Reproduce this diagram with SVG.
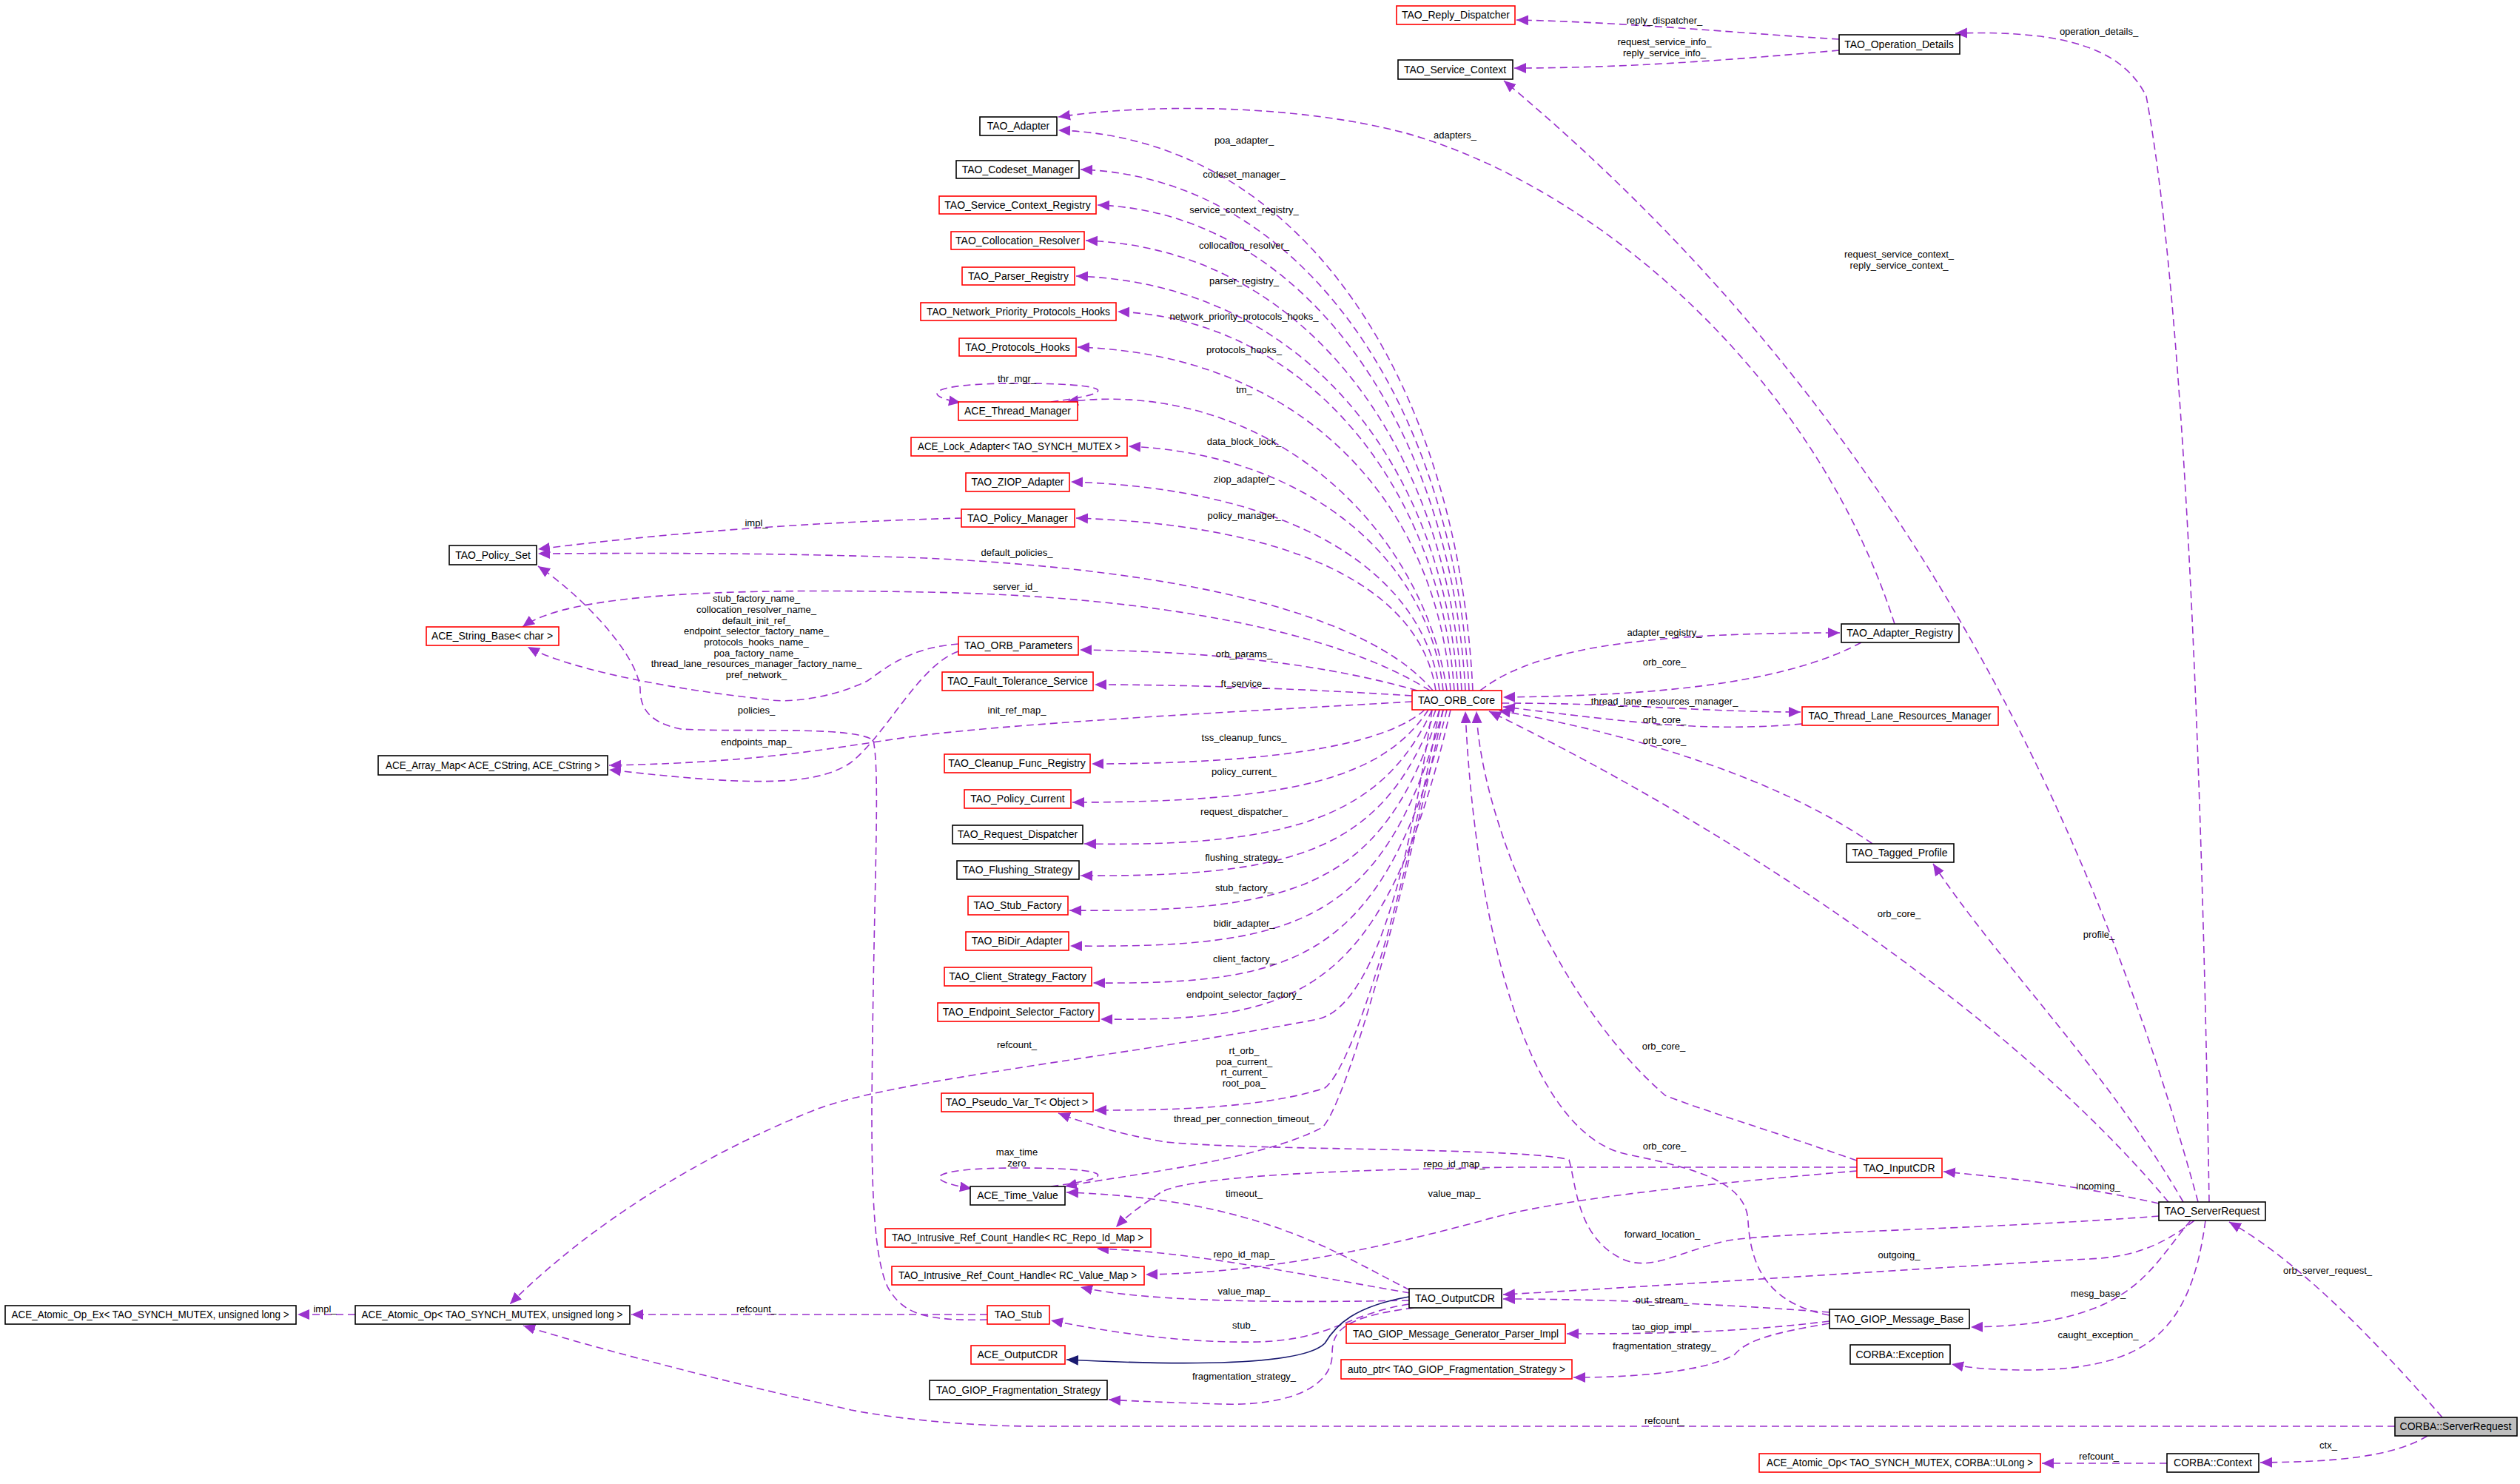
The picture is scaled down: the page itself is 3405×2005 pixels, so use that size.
<svg xmlns="http://www.w3.org/2000/svg" width="3405" height="2005" viewBox="0 0 3405 2005">
<style>
.n rect{fill:#fff;stroke-width:1.6}
.r rect{stroke:#ff0000}
.b rect{stroke:#000}
.g rect{stroke:#000;fill:#bfbfbf}
.n text{font-family:"Liberation Sans",Arial,sans-serif;font-size:14px;text-anchor:middle;fill:#000}
.e path{fill:none;stroke:#9a32cd;stroke-width:1.6;stroke-dasharray:10,6;marker-end:url(#a)}
.e path.inh{stroke:#191970;stroke-dasharray:none;marker-end:url(#ai)}
.l text{font-family:"Liberation Sans",Arial,sans-serif;font-size:13px;text-anchor:middle;fill:#000}
</style>
<defs>
<marker id="a" markerUnits="userSpaceOnUse" markerWidth="20" markerHeight="16" refX="16" refY="7" orient="auto"><path d="M0,0 L16,7 L0,14 z" fill="#9a32cd"/></marker>
<marker id="ai" markerUnits="userSpaceOnUse" markerWidth="20" markerHeight="16" refX="16" refY="7" orient="auto"><path d="M0,0 L16,7 L0,14 z" fill="#191970"/></marker>
</defs>
<rect width="3405" height="2005" fill="#fff"/>
<g id="edges" class="e">
<path d="M1990,933 C1970,517 1760,186 1430,176"/>
<path d="M1985,933 C1965,546 1760,239 1460,229"/>
<path d="M1980,933 C1960,572 1760,287 1483,277"/>
<path d="M1975,933 C1955,599 1760,335 1467,325"/>
<path d="M1970,933 C1950,625 1760,383 1454,373"/>
<path d="M1965,933 C1945,651 1760,431 1510,421"/>
<path d="M1960,933 C1940,678 1760,479 1456,469"/>
<path d="M1955,933 C1920,700 1700,510 1441,543"/>
<path d="M1950,933 C1930,750 1760,613 1525,603"/>
<path d="M1945,933 C1925,780 1760,661 1447,651"/>
<path d="M1940,933 C1920,800 1760,710 1454,700"/>
<path d="M1936,933 C1850,830 1600,770 1250,754 C1000,745 800,748 727,748"/>
<path d="M1932,933 C1800,850 1550,805 1250,800 C1000,795 770,800 706,847"/>
<path d="M1915,933 C1800,900 1650,880 1459,878"/>
<path d="M1908,940 C1750,930 1600,925 1479,925"/>
<path d="M1908,948 C1700,960 1400,975 1250,993 C1150,1005 1050,1030 823,1034"/>
<path d="M1925,959 C1880,1000 1750,1032 1475,1032"/>
<path d="M1930,959 C1870,1050 1750,1084 1449,1084"/>
<path d="M1935,959 C1870,1100 1750,1145 1465,1140"/>
<path d="M1940,959 C1870,1150 1750,1185 1460,1183"/>
<path d="M1945,959 C1870,1200 1750,1233 1445,1230"/>
<path d="M1950,959 C1870,1250 1750,1281 1446,1278"/>
<path d="M1955,959 C1870,1300 1750,1330 1477,1328"/>
<path d="M1960,959 C1870,1350 1750,1380 1487,1377"/>
<path d="M1935,959 C1900,1200 1850,1360 1781,1377 C1500,1430 1200,1460 1100,1500 C900,1580 760,1690 689,1762"/>
<path d="M1945,959 C1900,1200 1830,1440 1790,1470 C1700,1500 1550,1500 1479,1500"/>
<path d="M1950,959 C1900,1200 1820,1490 1787,1523 C1700,1570 1500,1590 1439,1603"/>
<path d="M1300,700 C1100,705 900,720 727,742"/>
<path d="M1295,870 C1230,875 1200,900 1172,920 C1120,945 1060,950 1036,945 C940,935 780,910 713,874"/>
<path d="M1295,880 C1240,900 1200,990 1150,1030 C1100,1065 1000,1060 823,1040"/>
<path d="M1334,1783 C1250,1785 1220,1775 1200,1740 C1180,1700 1178,1600 1178,1500 C1180,1200 1190,1050 1180,1000 C1150,980 1000,990 920,985 C870,975 865,950 865,930 C860,880 780,800 727,765"/>
<path d="M1334,1776 L853,1776"/>
<path d="M480,1776 L402,1776"/>
<path d="M1420,543 C1520,530 1500,518 1375,518 C1250,518 1245,535 1298,544"/>
<path d="M1420,1603 C1520,1590 1500,1578 1375,1578 C1250,1578 1245,1595 1313,1606"/>
<path d="M2000,933 C2080,870 2250,855 2486,855"/>
<path d="M2515,868 C2400,930 2200,940 2031,942"/>
<path d="M2029,950 C2200,950 2300,962 2433,962"/>
<path d="M2435,978 C2300,990 2200,975 2031,955"/>
<path d="M2530,1140 C2400,1050 2200,990 2025,960"/>
<path d="M2930,1624 C2700,1350 2300,1100 2012,961"/>
<path d="M2509,1568 C2400,1530 2300,1500 2250,1480 C2100,1350 2000,1100 1995,961"/>
<path d="M2472,1777 C2380,1760 2365,1700 2362,1650 C2360,1600 2300,1580 2200,1560 C2050,1530 1990,1200 1980,961"/>
<path d="M2485,53 C2350,45 2200,30 2049,27"/>
<path d="M2485,68 C2350,80 2200,92 2046,92"/>
<path d="M2985,1624 C2975,1000 2950,400 2900,130 C2870,70 2800,40 2642,45"/>
<path d="M2970,1624 C2800,1000 2500,500 2032,109"/>
<path d="M2560,843 C2450,500 2150,250 1900,180 C1750,140 1550,140 1430,158"/>
<path d="M2950,1624 C2850,1450 2700,1300 2612,1167"/>
<path d="M2917,1626 C2800,1600 2700,1590 2626,1583"/>
<path d="M2917,1643 C2700,1660 2400,1665 2335,1676 C2270,1690 2230,1720 2190,1700 C2130,1670 2130,1600 2120,1567 C2060,1550 1700,1555 1575,1543 C1500,1530 1460,1515 1430,1504"/>
<path d="M2965,1649 C2900,1700 2850,1700 2800,1702 C2500,1720 2200,1740 2031,1749"/>
<path d="M2960,1649 C2900,1720 2880,1790 2663,1793"/>
<path d="M2980,1649 C2960,1800 2900,1850 2740,1851 C2690,1851 2660,1848 2637,1843"/>
<path d="M3300,1915 C3200,1800 3100,1700 3012,1651"/>
<path d="M3236,1927 L1400,1927 C1300,1927 1200,1915 1150,1905 C950,1860 800,1820 707,1791"/>
<path d="M3280,1940 C3230,1970 3150,1975 3054,1976"/>
<path d="M2928,1977 L2759,1977"/>
<path d="M2472,1773 C2300,1760 2150,1755 2031,1755"/>
<path d="M2472,1785 C2350,1800 2250,1802 2117,1802"/>
<path d="M2472,1788 C2400,1800 2360,1810 2344,1830 C2300,1855 2200,1861 2126,1861"/>
<path d="M2509,1577 L2050,1577 C1800,1580 1610,1590 1570,1610 C1540,1630 1520,1645 1508,1658"/>
<path d="M2509,1582 C2300,1600 2100,1620 2000,1650 C1850,1690 1700,1720 1548,1722"/>
<path d="M1905,1743 C1800,1690 1700,1620 1441,1611"/>
<path d="M1905,1747 C1750,1720 1600,1690 1482,1687"/>
<path d="M1904,1757 C1750,1760 1550,1760 1460,1739"/>
<path d="M1904,1762 C1820,1775 1800,1810 1700,1813 C1600,1815 1500,1800 1420,1784"/>
<path class="inh" d="M1904,1752 C1830,1765 1805,1790 1790,1815 C1760,1845 1600,1845 1441,1837"/>
<path d="M1910,1767 C1810,1780 1800,1800 1800,1830 C1800,1870 1750,1900 1650,1897 C1580,1895 1530,1893 1498,1891"/>
</g>
<g id="labels" class="l">
<text x="1681" y="194">poa_adapter_</text>
<text x="1681" y="240">codeset_manager_</text>
<text x="1681" y="288">service_context_registry_</text>
<text x="1681" y="336">collocation_resolver_</text>
<text x="1681" y="384">parser_registry_</text>
<text x="1681" y="432">network_priority_protocols_hooks_</text>
<text x="1681" y="477">protocols_hooks_</text>
<text x="1681" y="531">tm_</text>
<text x="1374" y="516">thr_mgr_</text>
<text x="1681" y="601">data_block_lock_</text>
<text x="1681" y="652">ziop_adapter_</text>
<text x="1681" y="701">policy_manager_</text>
<text x="1374" y="751">default_policies_</text>
<text x="1372" y="797">server_id_</text>
<text x="1681" y="888">orb_params_</text>
<text x="1681" y="928">ft_service_</text>
<text x="1374" y="964">init_ref_map_</text>
<text x="1681" y="1001">tss_cleanup_funcs_</text>
<text x="1681" y="1047">policy_current_</text>
<text x="1681" y="1101">request_dispatcher_</text>
<text x="1681" y="1163">flushing_strategy_</text>
<text x="1681" y="1204">stub_factory_</text>
<text x="1681" y="1252">bidir_adapter_</text>
<text x="1681" y="1300">client_factory_</text>
<text x="1681" y="1348">endpoint_selector_factory_</text>
<text x="1374" y="1416">refcount_</text>
<text x="1681" y="1424">rt_orb_</text>
<text x="1681" y="1439">poa_current_</text>
<text x="1681" y="1453">rt_current_</text>
<text x="1681" y="1468">root_poa_</text>
<text x="1681" y="1516">thread_per_connection_timeout_</text>
<text x="1374" y="1561">max_time</text>
<text x="1374" y="1576">zero</text>
<text x="1681" y="1617">timeout_</text>
<text x="1965" y="1577">repo_id_map_</text>
<text x="1965" y="1617">value_map_</text>
<text x="1681" y="1699">repo_id_map_</text>
<text x="1681" y="1749">value_map_</text>
<text x="1681" y="1795">stub_</text>
<text x="1681" y="1864">fragmentation_strategy_</text>
<text x="1022" y="1773">refcount_</text>
<text x="439" y="1773">impl_</text>
<text x="1022" y="711">impl_</text>
<text x="1022" y="813">stub_factory_name_</text>
<text x="1022" y="828">collocation_resolver_name_</text>
<text x="1022" y="843">default_init_ref_</text>
<text x="1022" y="857">endpoint_selector_factory_name_</text>
<text x="1022" y="872">protocols_hooks_name_</text>
<text x="1022" y="887">poa_factory_name_</text>
<text x="1022" y="901">thread_lane_resources_manager_factory_name_</text>
<text x="1022" y="916">pref_network_</text>
<text x="1022" y="964">policies_</text>
<text x="1022" y="1007">endpoints_map_</text>
<text x="2249" y="32">reply_dispatcher_</text>
<text x="2249" y="61">request_service_info_</text>
<text x="2249" y="76">reply_service_info_</text>
<text x="2836" y="47">operation_details_</text>
<text x="1966" y="187">adapters_</text>
<text x="2566" y="348">request_service_context_</text>
<text x="2566" y="363">reply_service_context_</text>
<text x="2249" y="859">adapter_registry_</text>
<text x="2249" y="899">orb_core_</text>
<text x="2249" y="952">thread_lane_resources_manager_</text>
<text x="2249" y="977">orb_core_</text>
<text x="2249" y="1005">orb_core_</text>
<text x="2566" y="1239">orb_core_</text>
<text x="2836" y="1267">profile_</text>
<text x="2248" y="1418">orb_core_</text>
<text x="2249" y="1553">orb_core_</text>
<text x="2246" y="1672">forward_location_</text>
<text x="2566" y="1700">outgoing_</text>
<text x="2835" y="1607">incoming_</text>
<text x="2835" y="1752">mesg_base_</text>
<text x="2835" y="1808">caught_exception_</text>
<text x="3145" y="1721">orb_server_request_</text>
<text x="2246" y="1761">out_stream_</text>
<text x="2249" y="1797">tao_giop_impl_</text>
<text x="2249" y="1823">fragmentation_strategy_</text>
<text x="2249" y="1924">refcount_</text>
<text x="3146" y="1957">ctx_</text>
<text x="2836" y="1972">refcount_</text>
</g>
<g id="n1" class="n r"><rect x="1887" y="8" width="160" height="25"/><text x="1967" y="25">TAO_Reply_Dispatcher</text></g>
<g id="n2" class="n b"><rect x="1889" y="81" width="155" height="26"/><text x="1966" y="99">TAO_Service_Context</text></g>
<g id="n3" class="n b"><rect x="2485" y="47" width="163" height="26"/><text x="2566" y="65">TAO_Operation_Details</text></g>
<g id="n4" class="n b"><rect x="1324" y="158" width="104" height="25"/><text x="1376" y="175">TAO_Adapter</text></g>
<g id="n5" class="n b"><rect x="1292" y="217" width="166" height="24"/><text x="1375" y="234">TAO_Codeset_Manager</text></g>
<g id="n6" class="n r"><rect x="1269" y="265" width="212" height="24"/><text x="1375" y="282">TAO_Service_Context_Registry</text></g>
<g id="n7" class="n r"><rect x="1285" y="313" width="180" height="24"/><text x="1375" y="330">TAO_Collocation_Resolver</text></g>
<g id="n8" class="n r"><rect x="1300" y="361" width="152" height="24"/><text x="1376" y="378">TAO_Parser_Registry</text></g>
<g id="n9" class="n r"><rect x="1244" y="409" width="264" height="24"/><text x="1376" y="426" textLength="248" lengthAdjust="spacingAndGlyphs">TAO_Network_Priority_Protocols_Hooks</text></g>
<g id="n10" class="n r"><rect x="1296" y="457" width="158" height="24"/><text x="1375" y="474">TAO_Protocols_Hooks</text></g>
<g id="n11" class="n r"><rect x="1295" y="543" width="161" height="25"/><text x="1375" y="560">ACE_Thread_Manager</text></g>
<g id="n12" class="n r"><rect x="1231" y="591" width="292" height="25"/><text x="1377" y="608" textLength="274" lengthAdjust="spacingAndGlyphs">ACE_Lock_Adapter&lt; TAO_SYNCH_MUTEX &gt;</text></g>
<g id="n13" class="n r"><rect x="1305" y="639" width="140" height="25"/><text x="1375" y="656">TAO_ZIOP_Adapter</text></g>
<g id="n14" class="n r"><rect x="1299" y="688" width="153" height="24"/><text x="1375" y="705">TAO_Policy_Manager</text></g>
<g id="n15" class="n b"><rect x="607" y="737" width="118" height="26"/><text x="666" y="755">TAO_Policy_Set</text></g>
<g id="n16" class="n r"><rect x="576" y="847" width="179" height="25"/><text x="665" y="864">ACE_String_Base&lt; char &gt;</text></g>
<g id="n17" class="n r"><rect x="1295" y="860" width="162" height="25"/><text x="1376" y="877">TAO_ORB_Parameters</text></g>
<g id="n18" class="n r"><rect x="1273" y="908" width="204" height="25"/><text x="1375" y="925">TAO_Fault_Tolerance_Service</text></g>
<g id="n19" class="n r"><rect x="1908" y="933" width="121" height="26"/><text x="1968" y="951">TAO_ORB_Core</text></g>
<g id="n20" class="n b"><rect x="511" y="1021" width="310" height="26"/><text x="666" y="1039" textLength="290" lengthAdjust="spacingAndGlyphs">ACE_Array_Map&lt; ACE_CString, ACE_CString &gt;</text></g>
<g id="n21" class="n r"><rect x="1276" y="1019" width="197" height="25"/><text x="1374" y="1036">TAO_Cleanup_Func_Registry</text></g>
<g id="n22" class="n r"><rect x="1303" y="1067" width="144" height="25"/><text x="1375" y="1084">TAO_Policy_Current</text></g>
<g id="n23" class="n b"><rect x="1287" y="1115" width="176" height="25"/><text x="1375" y="1132">TAO_Request_Dispatcher</text></g>
<g id="n24" class="n b"><rect x="1293" y="1163" width="165" height="25"/><text x="1375" y="1180">TAO_Flushing_Strategy</text></g>
<g id="n25" class="n r"><rect x="1308" y="1211" width="135" height="25"/><text x="1375" y="1228">TAO_Stub_Factory</text></g>
<g id="n26" class="n r"><rect x="1305" y="1259" width="139" height="25"/><text x="1374" y="1276">TAO_BiDir_Adapter</text></g>
<g id="n27" class="n r"><rect x="1276" y="1307" width="199" height="25"/><text x="1375" y="1324">TAO_Client_Strategy_Factory</text></g>
<g id="n28" class="n r"><rect x="1267" y="1355" width="218" height="25"/><text x="1376" y="1372">TAO_Endpoint_Selector_Factory</text></g>
<g id="n29" class="n r"><rect x="1272" y="1477" width="205" height="25"/><text x="1374" y="1494">TAO_Pseudo_Var_T&lt; Object &gt;</text></g>
<g id="n30" class="n b"><rect x="1311" y="1603" width="128" height="25"/><text x="1375" y="1620">ACE_Time_Value</text></g>
<g id="n31" class="n r"><rect x="1196" y="1660" width="359" height="25"/><text x="1375" y="1677" textLength="340" lengthAdjust="spacingAndGlyphs">TAO_Intrusive_Ref_Count_Handle&lt; RC_Repo_Id_Map &gt;</text></g>
<g id="n32" class="n r"><rect x="1205" y="1711" width="341" height="25"/><text x="1375" y="1728" textLength="322" lengthAdjust="spacingAndGlyphs">TAO_Intrusive_Ref_Count_Handle&lt; RC_Value_Map &gt;</text></g>
<g id="n33" class="n b"><rect x="1904" y="1741" width="125" height="26"/><text x="1966" y="1759">TAO_OutputCDR</text></g>
<g id="n34" class="n r"><rect x="1334" y="1764" width="84" height="25"/><text x="1376" y="1781">TAO_Stub</text></g>
<g id="n35" class="n r"><rect x="1312" y="1818" width="127" height="25"/><text x="1375" y="1835">ACE_OutputCDR</text></g>
<g id="n36" class="n b"><rect x="1256" y="1865" width="240" height="26"/><text x="1376" y="1883" textLength="222" lengthAdjust="spacingAndGlyphs">TAO_GIOP_Fragmentation_Strategy</text></g>
<g id="n37" class="n r"><rect x="1819" y="1789" width="296" height="26"/><text x="1967" y="1807" textLength="278" lengthAdjust="spacingAndGlyphs">TAO_GIOP_Message_Generator_Parser_Impl</text></g>
<g id="n38" class="n r"><rect x="1812" y="1837" width="312" height="26"/><text x="1968" y="1855" textLength="294" lengthAdjust="spacingAndGlyphs">auto_ptr&lt; TAO_GIOP_Fragmentation_Strategy &gt;</text></g>
<g id="n39" class="n b"><rect x="7" y="1764" width="393" height="25"/><text x="203" y="1781" textLength="375" lengthAdjust="spacingAndGlyphs">ACE_Atomic_Op_Ex&lt; TAO_SYNCH_MUTEX, unsigned long &gt;</text></g>
<g id="n40" class="n b"><rect x="480" y="1764" width="371" height="25"/><text x="665" y="1781" textLength="353" lengthAdjust="spacingAndGlyphs">ACE_Atomic_Op&lt; TAO_SYNCH_MUTEX, unsigned long &gt;</text></g>
<g id="n41" class="n b"><rect x="2488" y="843" width="159" height="25"/><text x="2567" y="860">TAO_Adapter_Registry</text></g>
<g id="n42" class="n r"><rect x="2435" y="955" width="265" height="25"/><text x="2567" y="972" textLength="247" lengthAdjust="spacingAndGlyphs">TAO_Thread_Lane_Resources_Manager</text></g>
<g id="n43" class="n b"><rect x="2495" y="1140" width="145" height="25"/><text x="2567" y="1157">TAO_Tagged_Profile</text></g>
<g id="n44" class="n r"><rect x="2509" y="1565" width="115" height="26"/><text x="2566" y="1583">TAO_InputCDR</text></g>
<g id="n45" class="n b"><rect x="2917" y="1624" width="144" height="25"/><text x="2989" y="1641">TAO_ServerRequest</text></g>
<g id="n46" class="n b"><rect x="2472" y="1769" width="189" height="26"/><text x="2566" y="1787">TAO_GIOP_Message_Base</text></g>
<g id="n47" class="n b"><rect x="2500" y="1817" width="135" height="26"/><text x="2567" y="1835">CORBA::Exception</text></g>
<g id="n48" class="n g"><rect x="3236" y="1915" width="165" height="25"/><text x="3318" y="1932">CORBA::ServerRequest</text></g>
<g id="n49" class="n b"><rect x="2928" y="1964" width="124" height="25"/><text x="2990" y="1981">CORBA::Context</text></g>
<g id="n50" class="n r"><rect x="2377" y="1964" width="380" height="25"/><text x="2567" y="1981" textLength="360" lengthAdjust="spacingAndGlyphs">ACE_Atomic_Op&lt; TAO_SYNCH_MUTEX, CORBA::ULong &gt;</text></g>
</svg>
